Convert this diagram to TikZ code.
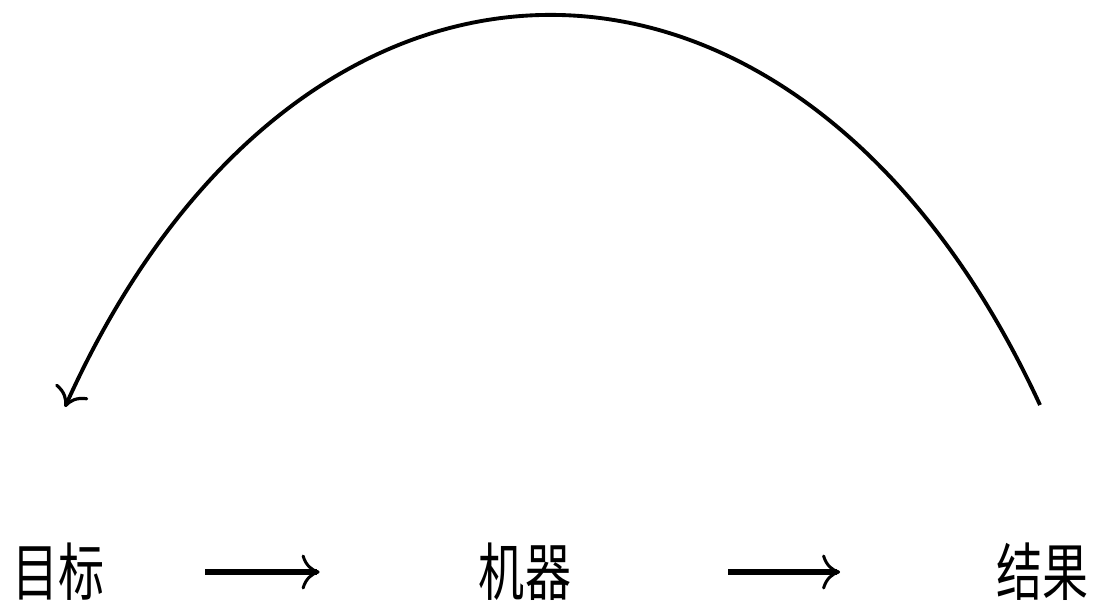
\documentclass[tikz,border=0pt]{standalone}
\usepackage{fontspec}
\usepackage{graphicx}
\newfontfamily\cjk{Noto Sans CJK SC}
\newcommand{\tallword}[1]{\scalebox{0.97}[1.32]{#1}}
\usetikzlibrary{arrows.meta,positioning}
\tikzset{
  word/.style={inner sep=0pt,font=\cjk\fontsize{27}{30}\selectfont},
  arr/.style={-{To[length=0.36cm,width=0.7cm,line width=1.7pt]},
              line width=3.5pt},
  arcarr/.style={-{To[length=0.36cm,width=0.72cm,line width=1.8pt]},
                 line width=2.2pt}
}

\begin{document}
\begin{tikzpicture}
  \useasboundingbox (0,0) rectangle (21.96,12.14);
  \node[word] (goal) at (1.18,0.7) {\tallword{目标}};
  \node[word] (machine) at (10.5,0.7) {\tallword{机器}};
  \node[word] (result) at (20.85,0.7) {\tallword{结果}};
  \coordinate (arcR) at (20.8,4.04);
  \coordinate (arcL) at (1.3,4.0);

  \draw[arr,shorten <=2cm,shorten >=3.18cm] (goal)--(machine);
  \draw[arr,shorten <=3.14cm,shorten >=3.12cm] (machine)--(result);
  % feedback back to the goal
  \draw[arcarr] (arcR) .. controls (16.0,14.44) and (6.0,14.44) .. (arcL);
\end{tikzpicture}
\end{document}
